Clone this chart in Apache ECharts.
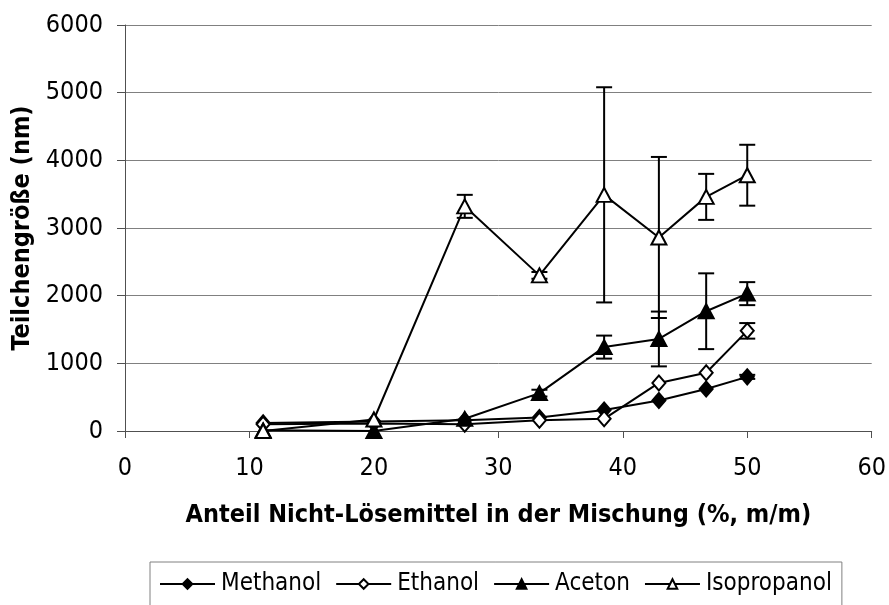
<!DOCTYPE html>
<html>
<head>
<meta charset="utf-8">
<script src="https://cdn.jsdelivr.net/npm/echarts@6/dist/echarts.min.js"></script>
<style>
html,body{margin:0;padding:0;background:#fff;}
#chart{width:889px;height:605px;}
</style>
</head>
<body>
<div id="chart"></div>
<script>
const xValues = [11.1, 20, 27.3, 33.3, 38.5, 42.9, 46.7, 50];
const methanol = [120, 140, 160, 200, 310, 450, 620, 800];
const ethanol = [100, 110, 100, 160, 180, 710, 860, 1480];
const aceton = [10, 0, 180, 560, 1240, 1360, 1770, 2030];
const isopropanol = [0, 170, 3320, 2300, 3490, 2860, 3460, 3780];
const methanolErr = [0, 0, 0, 0, 0, 0, 0, 30];
const ethanolErr = [0, 0, 0, 0, 0, 0, 0, 115];
const acetonErr = [0, 0, 0, 50, 170, 405, 560, 170];
const isopropanolErr = [0, 0, 170, 50, 1590, 1190, 340, 450];
const seriesNames = ['Methanol', 'Ethanol', 'Aceton', 'Isopropanol'];
const xAxisTitle = 'Anteil Nicht-Lösemittel in der Mischung (%, m/m)';
const yAxisTitle = 'Teilchengröße (nm)';

const FONT = "'DejaVu Sans Condensed', 'DejaVu Sans', sans-serif";

function pairs(ys) { return xValues.map((x, i) => [x, ys[i]]); }
function errData(ys, es) { return xValues.map((x, i) => [x, ys[i], es[i]]); }

function errorSeries(ys, es, z) {
  return {
    type: 'custom',
    z: z,
    silent: true,
    data: errData(ys, es),
    encode: { x: 0, y: 1 },
    renderItem: function (params, api) {
      const x = api.value(0), y = api.value(1), e = api.value(2);
      if (!e) return null;
      const top = api.coord([x, y + e]);
      const bot = api.coord([x, y - e]);
      const hw = 8;
      const st = { stroke: '#000', lineWidth: 2 };
      return {
        type: 'group',
        children: [
          { type: 'line', shape: { x1: top[0], y1: top[1], x2: bot[0], y2: bot[1] }, style: st },
          { type: 'line', shape: { x1: top[0] - hw, y1: top[1], x2: top[0] + hw, y2: top[1] }, style: st },
          { type: 'line', shape: { x1: bot[0] - hw, y1: bot[1], x2: bot[0] + hw, y2: bot[1] }, style: st }
        ]
      };
    }
  };
}

function lineSeries(name, ys, symbol, size, filled, z) {
  return {
    name: name,
    type: 'line',
    z: z,
    data: pairs(ys),
    symbol: symbol,
    symbolSize: size,
    showAllSymbol: true,
    lineStyle: { color: '#000', width: 2 },
    itemStyle: { color: filled ? '#000' : '#fff', borderColor: '#000', borderWidth: 2 },
    emphasis: { disabled: true },
    animation: false
  };
}

const chart = echarts.init(document.getElementById('chart'), null, { renderer: 'canvas' });
chart.setOption({
  animation: false,
  backgroundColor: '#fff',
  textStyle: { fontFamily: FONT, color: '#000' },
  grid: { left: 125, right: 13, top: 25, bottom: 174, containLabel: false },
  xAxis: {
    type: 'value',
    min: 0, max: 60, interval: 10,
    name: xAxisTitle,
    nameLocation: 'middle',
    nameGap: 72,
    nameTextStyle: { fontFamily: FONT, fontSize: 25, fontWeight: 'bold', color: '#000' },
    axisLine: { show: true, onZero: false, lineStyle: { color: '#505050', width: 1 } },
    axisTick: { show: true, inside: false, length: 7, lineStyle: { color: '#505050' } },
    axisLabel: { margin: 25, fontSize: 25, fontFamily: FONT, color: '#000', formatter: v => String(v) },
    splitLine: { show: false }
  },
  yAxis: {
    type: 'value',
    min: 0, max: 6000, interval: 1000,
    name: yAxisTitle,
    nameLocation: 'middle',
    nameGap: 82,
    nameRotate: 90,
    nameTextStyle: { fontFamily: FONT, fontSize: 25, fontWeight: 'bold', color: '#000' },
    axisLine: { show: true, lineStyle: { color: '#505050', width: 1 } },
    axisTick: { show: true, inside: false, length: 8, lineStyle: { color: '#505050' } },
    axisLabel: { margin: 22, fontSize: 25, fontFamily: FONT, color: '#000', formatter: v => String(v) },
    splitLine: { show: true, lineStyle: { color: '#808080', width: 1 } }
  },
  legend: {
    data: seriesNames,
    left: 150, top: 562,
    orient: 'horizontal',
    padding: [10, 10, 40, 9],
    itemGap: 14,
    itemWidth: 55,
    itemHeight: 12,
    borderColor: '#808080',
    borderWidth: 1,
    textStyle: { fontFamily: FONT, fontSize: 24, color: '#000', padding: [0, 0, 0, 1] },
    selectedMode: false
  },
  series: [
    lineSeries(seriesNames[0], methanol, 'diamond', [13, 15], true, 4),
    lineSeries(seriesNames[1], ethanol, 'diamond', [13, 15], false, 5),
    lineSeries(seriesNames[2], aceton, 'triangle', [15, 14], true, 6),
    lineSeries(seriesNames[3], isopropanol, 'triangle', [15, 14], false, 7),
    errorSeries(methanol, methanolErr, 3),
    errorSeries(ethanol, ethanolErr, 3),
    errorSeries(aceton, acetonErr, 3),
    errorSeries(isopropanol, isopropanolErr, 3)
  ]
});
</script>
</body>
</html>
